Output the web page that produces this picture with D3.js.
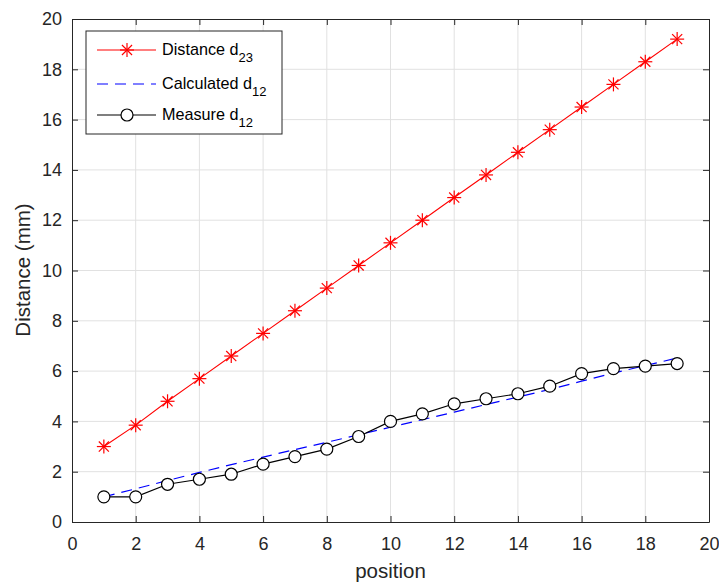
<!DOCTYPE html>
<html><head><meta charset="utf-8">
<script src="https://cdn.jsdelivr.net/npm/d3@7"></script>
<style>body{margin:0;background:#fff;}svg{display:block;font-family:"Liberation Sans",Arial,Helvetica,sans-serif;}</style>
</head><body>
<svg id="c" width="719" height="585"></svg>
<script>
const positions = [1,2,3,4,5,6,7,8,9,10,11,12,13,14,15,16,17,18,19];
const distanceD23 = [3.0,3.85,4.8,5.7,6.6,7.5,8.4,9.3,10.2,11.1,12.0,12.9,13.8,14.7,15.6,16.5,17.4,18.3,19.2];
const calculatedD12 = [1.0,1.32,1.65,1.97,2.28,2.58,2.88,3.17,3.47,3.77,4.07,4.37,4.67,4.97,5.27,5.6,5.92,6.22,6.52];
const measureD12 = [1.0,1.0,1.5,1.7,1.9,2.3,2.6,2.9,3.4,4.0,4.3,4.7,4.9,5.1,5.4,5.9,6.1,6.2,6.3];
const xTicks = [0,2,4,6,8,10,12,14,16,18,20];
const yTicks = [0,2,4,6,8,10,12,14,16,18,20];

const svg = d3.select("#c");
const L=72, R=709, T=19, B=522;
const x = d3.scaleLinear().domain([0,20]).range([L,R]);
const y = d3.scaleLinear().domain([0,20]).range([B,T]);
const axc = "#262626";

// grid
const g = svg.append("g");
g.selectAll(".gx").data(xTicks.slice(1,-1)).join("line")
  .attr("x1",d=>x(d)).attr("x2",d=>x(d)).attr("y1",T).attr("y2",B)
  .attr("stroke","#e1e1e1").attr("stroke-width",1);
g.selectAll(".gy").data(yTicks.slice(1,-1)).join("line")
  .attr("y1",d=>y(d)).attr("y2",d=>y(d)).attr("x1",L).attr("x2",R)
  .attr("stroke","#e1e1e1").attr("stroke-width",1);

// axes with inward ticks
const tl = 6;
const xb = svg.append("g").attr("transform",`translate(0,${B})`)
  .call(d3.axisBottom(x).tickValues(xTicks).tickSizeInner(-tl).tickSizeOuter(0).tickPadding(15));
const xt = svg.append("g").attr("transform",`translate(0,${T})`)
  .call(d3.axisTop(x).tickValues(xTicks).tickSizeInner(-tl).tickSizeOuter(0).tickFormat(""));
const yl = svg.append("g").attr("transform",`translate(${L},0)`)
  .call(d3.axisLeft(y).tickValues(yTicks).tickSizeInner(-tl).tickSizeOuter(0).tickPadding(10));
const yr = svg.append("g").attr("transform",`translate(${R},0)`)
  .call(d3.axisRight(y).tickValues(yTicks).tickSizeInner(-tl).tickSizeOuter(0).tickFormat(""));
[xb,xt,yl,yr].forEach(a=>{
  a.selectAll("path").attr("stroke",axc).attr("stroke-width",1);
  a.selectAll("line").attr("stroke",axc).attr("stroke-width",1);
  a.selectAll("text").attr("fill",axc).style("font-size","18px");
});

const line = d3.line().x((d,i)=>x(positions[i])).y(d=>y(d));

// red
svg.append("path").datum(distanceD23).attr("d",line).attr("fill","none").attr("stroke","#ff0000").attr("stroke-width",1.1);
function star(sel, cx, cy, s, color){
  const a = s*0.72;
  const segs=[[-s,0,s,0],[0,-s,0,s],[-a,-a,a,a],[-a,a,a,-a]];
  segs.forEach(q=>sel.append("line").attr("x1",cx+q[0]).attr("y1",cy+q[1]).attr("x2",cx+q[2]).attr("y2",cy+q[3]).attr("stroke",color).attr("stroke-width",1.2));
}
const sg = svg.append("g");
distanceD23.forEach((d,i)=>star(sg, x(positions[i]), y(d), 7, "#ff0000"));

// blue dashed
svg.append("path").datum(calculatedD12).attr("d",line).attr("fill","none").attr("stroke","#0000ff").attr("stroke-width",1.2).attr("stroke-dasharray","11,7");

// black
svg.append("path").datum(measureD12).attr("d",line).attr("fill","none").attr("stroke","#000").attr("stroke-width",1.2);
svg.selectAll(".m").data(measureD12).join("circle")
  .attr("cx",(d,i)=>x(positions[i])).attr("cy",d=>y(d)).attr("r",6)
  .attr("fill","#fff").attr("stroke","#000").attr("stroke-width",1.2);

// labels
svg.append("text").attr("x",(L+R)/2).attr("y",578).attr("text-anchor","middle")
  .attr("fill",axc).style("font-size","20.5px").text("position");
svg.append("text").attr("transform",`translate(30,270) rotate(-90)`).attr("text-anchor","middle")
  .attr("fill",axc).style("font-size","20.5px").text("Distance (mm)");

// legend
const lg = svg.append("g");
lg.append("rect").attr("x",86).attr("y",31).attr("width",196).attr("height",103)
  .attr("fill","#fff").attr("stroke",axc).attr("stroke-width",1);
const items = [
  {name:"Distance d", sub:"23", color:"#ff0000", dash:null, mk:"star", yy:50},
  {name:"Calculated d", sub:"12", color:"#0000ff", dash:"11,7", mk:null, yy:84},
  {name:"Measure d", sub:"12", color:"#000", dash:null, mk:"circle", yy:115}
];
items.forEach(it=>{
  lg.append("line").attr("x1",97).attr("x2",156).attr("y1",it.yy).attr("y2",it.yy)
    .attr("stroke",it.color).attr("stroke-width",1.2).attr("stroke-dasharray",it.dash);
  if(it.mk==="star") star(lg,127,it.yy,7,it.color);
  if(it.mk==="circle") lg.append("circle").attr("cx",127).attr("cy",it.yy).attr("r",6).attr("fill","#fff").attr("stroke","#000").attr("stroke-width",1.2);
  const t = lg.append("text").attr("x",162).attr("y",it.yy+5).attr("fill","#000").style("font-size","16.2px");
  t.append("tspan").text(it.name);
  t.append("tspan").attr("dy",7).style("font-size","13px").text(it.sub);
});
</script>
</body></html>
